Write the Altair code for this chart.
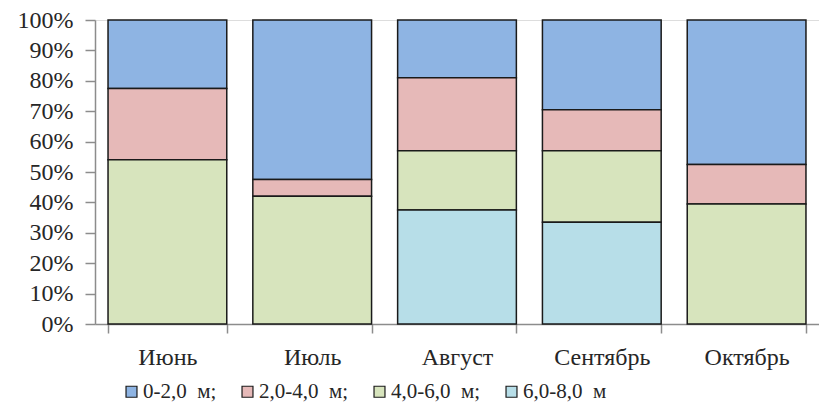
import altair as alt
import pandas as pd

months = ["Июнь", "Июль", "Август", "Сентябрь", "Октябрь"]
series = ["0-2,0\u00a0 м;", "2,0-4,0\u00a0 м;", "4,0-6,0\u00a0 м;", "6,0-8,0\u00a0 м"]
v_0_2 = [22.5, 52.5, 19.0, 29.5, 47.5]
v_2_4 = [23.5, 5.5, 24.0, 13.5, 13.0]
v_4_6 = [54.0, 42.0, 19.5, 23.5, 39.5]
v_6_8 = [0.0, 0.0, 37.5, 33.5, 0.0]
colors = ["#8EB4E3", "#E6B9B8", "#D7E4BD", "#B7DEE8"]
stack_order = [3, 2, 1, 0]

rows = []
for s, vals, o in zip(series, [v_0_2, v_2_4, v_4_6, v_6_8], stack_order):
    for m, v in zip(months, vals):
        rows.append({"month": m, "series": s, "value": v, "ord": o})
df = pd.DataFrame(rows)

FONT = "Liberation Serif"

chart = alt.Chart(df).transform_filter(
    alt.datum.value > 0
).mark_bar(stroke="#1a1a1a", strokeWidth=1.5).encode(
    x=alt.X("month:N", sort=months, title=None,
            scale=alt.Scale(paddingInner=0.18, paddingOuter=0.09),
            axis=alt.Axis(labelAngle=0, labelFont=FONT, labelFontSize=24,
                          labelColor="#262626", labelPadding=12,
                          tickBand="extent", tickSize=9, tickColor="#8c8c8c",
                          domainColor="#8c8c8c", domainWidth=1.5, tickWidth=1.5)),
    y=alt.Y("value:Q", stack="normalize", title=None,
            scale=alt.Scale(domain=[0, 1], nice=False),
            axis=alt.Axis(values=[i / 10 for i in range(11)], format=".0%",
                          labelFont=FONT, labelFontSize=24, labelColor="#262626",
                          labelPadding=12, tickSize=10, tickColor="#8c8c8c",
                          domainColor="#8c8c8c", domainWidth=1.5, tickWidth=1.5,
                          grid=False)),
    color=alt.Color("series:N", sort=series,
                    scale=alt.Scale(domain=series, range=colors),
                    legend=alt.Legend(orient="none", legendX=26, legendY=361,
                                      direction="horizontal", columns=4,
                                      title=None, symbolType="square",
                                      symbolSize=120, symbolStrokeColor="#1a1a1a",
                                      symbolStrokeWidth=1.2, symbolOpacity=1,
                                      labelFont=FONT, labelFontSize=21,
                                      labelColor="#262626", columnPadding=20,
                                      symbolOffset=0, labelOffset=1)),
    order=alt.Order("ord:Q", sort="ascending"),
).properties(
    width=724, height=304,
    autosize=alt.AutoSizeParams(type="none"),
    padding={"left": 95, "top": 20, "right": 0, "bottom": 93},
).configure_view(stroke=None).configure(background="white")

chart.save("out.html", embed_options={"renderer": "svg", "actions": False})
